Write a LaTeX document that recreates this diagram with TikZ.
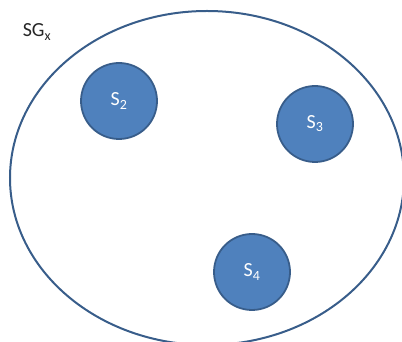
\documentclass[tikz,border=0pt]{standalone}
\usepackage{fontspec}
\setmainfont{Carlito}
\usepackage{tikz}
\usetikzlibrary{positioning}
\definecolor{setblue}{HTML}{4F81BD}
\definecolor{setedge}{HTML}{385D8A}
\tikzset{
  subset/.style={circle, draw=setedge, line width=1.8pt, fill=setblue,
    minimum size=76pt, inner sep=0pt, text=white,
    font=\fontsize{20}{23}\selectfont},
  grouplabel/.style={text=black!85, font=\fontsize{20}{23}\selectfont}
}

\begin{document}
\begin{tikzpicture}[x=1pt, y=1pt]
\useasboundingbox (0,0) rectangle (402,342);
\clip (0,0) rectangle (402,342);

% Outer set
\draw[setedge, line width=2pt] (207,164) ellipse (197 and 167);
\node[grouplabel] (sgx) at (37,310) {SG\textsubscript{x}};

% Members
\node[subset] (s2) at (119,241) {S\textsubscript{2}};
\node[subset] (s3) at (315,218) {S\textsubscript{3}};
\node[subset] (s4) at (252,70) {S\textsubscript{4}};

\end{tikzpicture}
\end{document}
